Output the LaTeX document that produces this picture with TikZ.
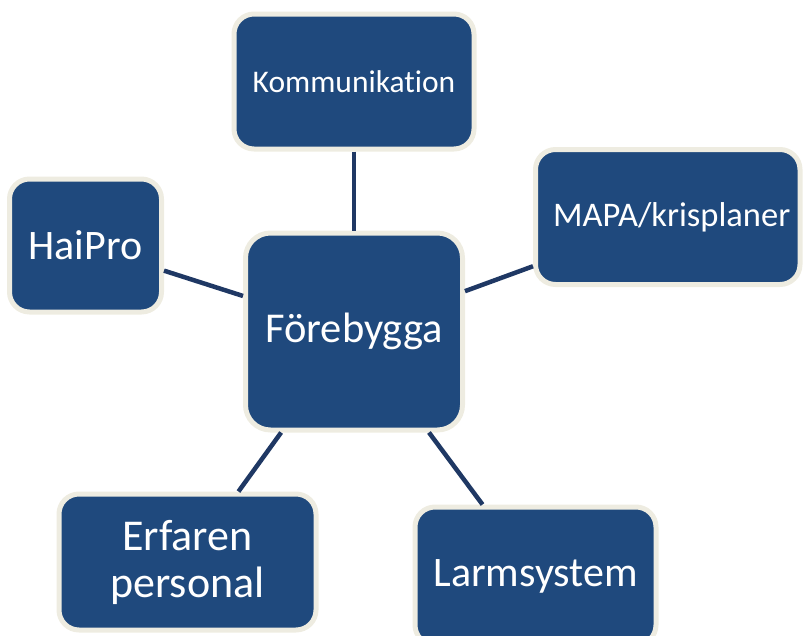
\documentclass[tikz,border=0pt]{standalone}
\usepackage{fontspec}
\setmainfont{Carlito}[Ligatures={NoCommon}]
\definecolor{boxfill}{HTML}{1F497D}
\definecolor{boxrim}{HTML}{EEECE1}
\definecolor{linkcol}{HTML}{1F3864}
\begin{document}
\begin{tikzpicture}[x=1pt,y=-1pt,
  box/.style={draw=boxrim, fill=boxfill, line width=5pt, rounded corners=20pt,
    text=white, align=center, inner sep=0pt},
  link/.style={draw=linkcol, line width=4.5pt}]
\useasboundingbox (0,0) rectangle (803,635);
\node[box, minimum width=240pt, minimum height=135pt, font=\fontsize{31.5}{38}\selectfont] (komm) at (354,81.5) {Kommunikation};
\node[box, minimum width=152pt, minimum height=133pt, font=\fontsize{42}{50}\selectfont] (haipro) at (85.5,245.5) {HaiPro};
\node[box, minimum width=217pt, minimum height=197pt, rounded corners=25pt, font=\fontsize{42.5}{50}\selectfont] (fore) at (354,331.5) {Förebygga};
\node[box, minimum width=264.5pt, minimum height=135pt, font=\fontsize{34.5}{41}\selectfont] (mapa) at (667.75,217) {\hspace*{8pt}MAPA/krisplaner};
\node[box, minimum width=257pt, minimum height=136pt, font=\fontsize{44}{47}\selectfont] (erf) at (187.5,562) {Erfaren\\personal};
\node[box, minimum width=241pt, minimum height=138pt, font=\fontsize{42}{50}\selectfont] (larm) at (535.5,576) {Larmsystem};
\draw[link] (komm) -- (fore);
\draw[link] (haipro) -- (fore);
\draw[link] (mapa) -- (fore);
\draw[link] (erf) -- (fore);
\draw[link] (larm) -- (fore);
\end{tikzpicture}
\end{document}
